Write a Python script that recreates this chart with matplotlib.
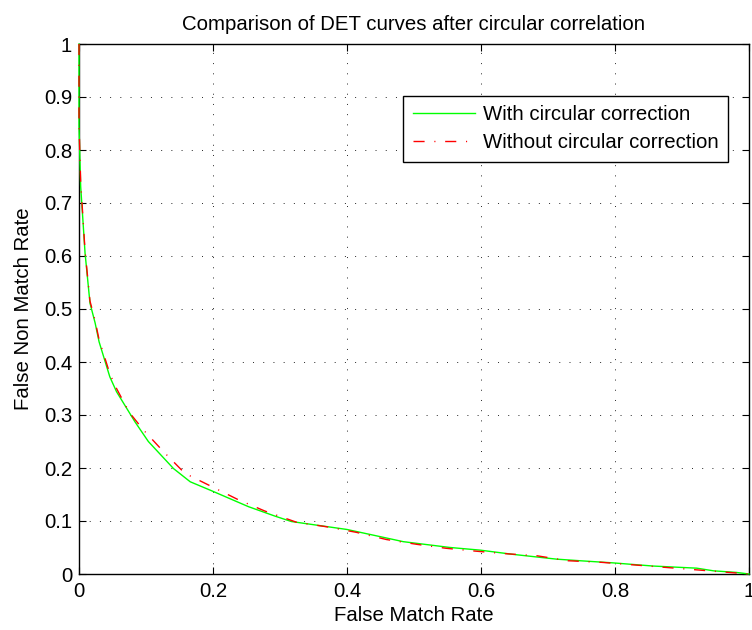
import matplotlib
matplotlib.use("Agg")
import matplotlib.pyplot as plt
from matplotlib.ticker import FuncFormatter, MultipleLocator

plt.rcParams['font.family'] = ['Liberation Sans', 'DejaVu Sans']

# Data
with_x = [0, 0, 0.0025, 0.0055, 0.009, 0.0164, 0.024, 0.030, 0.046, 0.056, 0.0836,
          0.1035, 0.141, 0.166, 0.198, 0.253, 0.293, 0.317, 0.40, 0.444, 0.484,
          0.554, 0.599, 0.648, 0.713, 0.748, 0.797, 0.857, 0.922, 0.947, 0.981, 1.0]
with_y = [1.0, 0.845, 0.731, 0.674, 0.606, 0.511, 0.474, 0.438, 0.372, 0.344, 0.287,
          0.250, 0.199, 0.174, 0.157, 0.127, 0.109, 0.099, 0.084, 0.072, 0.061,
          0.050, 0.045, 0.037, 0.028, 0.025, 0.021, 0.015, 0.011, 0.006, 0.003, 0.0]

without_x = [0, 0, 0.0025, 0.0055, 0.009, 0.0164, 0.024, 0.030, 0.046, 0.056, 0.075,
             0.096, 0.126, 0.158, 0.198, 0.238, 0.277, 0.325, 0.37, 0.414, 0.459,
             0.504, 0.548, 0.593, 0.64, 0.683, 0.73, 0.78, 0.84, 0.9, 0.95, 0.98, 1.0]
without_y = [1.0, 0.85, 0.74, 0.68, 0.61, 0.515, 0.478, 0.442, 0.378, 0.35, 0.305,
             0.272, 0.231, 0.190, 0.165, 0.140, 0.119, 0.0975, 0.089, 0.0786, 0.065,
             0.056, 0.0485, 0.043, 0.038, 0.0345, 0.025, 0.022, 0.016, 0.010, 0.005,
             0.002, 0.0]

series_labels = ["With circular correction", "Without circular correction"]
title = "Comparison of DET curves after circular correlation"
xlabel = "False Match Rate"
ylabel = "False Non Match Rate"

FS = 14.7

fig = plt.figure(figsize=(7.52, 6.30), dpi=100)
ax = fig.add_axes([79 / 752, 56 / 630, 670 / 752, 530 / 630])

ax.plot(with_x, with_y, color=(0, 1, 0), lw=1.0, label=series_labels[0],
        zorder=3, clip_on=False)
ax.plot(without_x, without_y, color=(1, 0, 0), lw=1.0,
        linestyle=(0, (8, 7, 0.8, 7)), label=series_labels[1],
        zorder=3, clip_on=False)

ax.set_xlim(0, 1)
ax.set_ylim(0, 1)
ax.xaxis.set_major_locator(MultipleLocator(0.2))
ax.yaxis.set_major_locator(MultipleLocator(0.1))
fmt = FuncFormatter(lambda v, p: "%g" % round(v, 3))
ax.xaxis.set_major_formatter(fmt)
ax.yaxis.set_major_formatter(fmt)

ax.tick_params(direction='in', length=4.8, width=0.8, top=True, right=True,
               labelsize=FS, colors='black')
ax.tick_params(axis='x', pad=6)
ax.tick_params(axis='y', pad=5)

ax.grid(True, color='0.15', lw=0.7, linestyle=(0, (1, 9.5)))
for s in ax.spines.values():
    s.set_linewidth(1.0)
    s.set_color('black')

ax.set_title(title, fontsize=FS, pad=10)
ax.set_xlabel(xlabel, fontsize=FS, labelpad=3.5)
ax.set_ylabel(ylabel, fontsize=FS, labelpad=8)

leg = ax.legend(loc='upper right', bbox_to_anchor=(0.9687, 0.902),
                borderaxespad=0, fontsize=FS, fancybox=False, framealpha=1,
                edgecolor='black', borderpad=0.45, handlelength=3.05,
                handletextpad=0.4, labelspacing=0.45)
leg.get_frame().set_linewidth(1.0)
leg.set_zorder(5)

fig.savefig("out.png", dpi=100)
